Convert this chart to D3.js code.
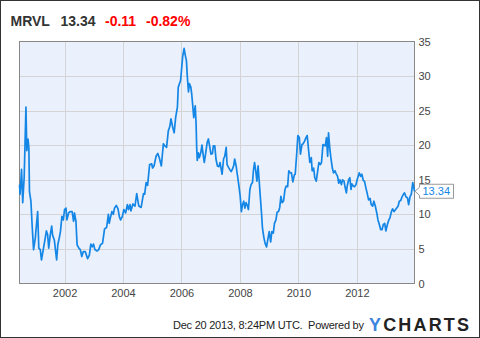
<!DOCTYPE html>
<html><head><meta charset="utf-8">
<script src="https://cdn.jsdelivr.net/npm/d3@7/dist/d3.min.js"></script>
<style>
html,body{margin:0;padding:0;background:#fff;}
svg{display:block;font-family:Arial,"Liberation Sans",sans-serif;}
</style></head>
<body>
<svg id="c" width="480" height="338"></svg>
<script>
// decimal years of observations
const years = [
2000.46,2000.48,2000.53,2000.57,2000.62,2000.68,2000.71,2000.75,2000.78,2000.80,2000.85,2000.89,2000.94,2001.00,2001.08,2001.12,2001.17,2001.21,2001.26,2001.32,2001.38,2001.42,2001.46,2001.51,2001.56,2001.59,2001.65,2001.73,2001.77,2001.82,2001.86,2001.91,2001.96,2002.00,2002.05,2002.08,2002.14,2002.19,2002.26,2002.31,2002.34,2002.39,2002.43,2002.49,2002.54,2002.59,2002.64,2002.71,2002.79,2002.85,2002.90,2002.95,2002.99,2003.04,2003.11,2003.17,
2003.23,2003.30,2003.37,2003.44,2003.50,2003.53,2003.58,2003.62,2003.67,2003.71,2003.77,2003.83,2003.88,2003.92,2003.98,2004.03,2004.09,2004.15,2004.19,2004.24,2004.27,2004.34,2004.41,2004.47,2004.54,2004.62,2004.70,2004.74,2004.79,2004.84,2004.91,2004.98,2005.01,2005.06,2005.13,2005.19,2005.24,2005.31,2005.38,2005.43,2005.49,2005.55,2005.60,2005.64,2005.70,2005.75,2005.80,2005.86,2005.89,2005.93,
2005.97,2006.04,2006.09,2006.13,2006.17,2006.20,2006.24,2006.27,2006.32,2006.35,2006.39,2006.42,2006.47,2006.50,2006.52,2006.54,2006.58,2006.61,2006.66,2006.70,2006.75,2006.78,2006.83,2006.88,2006.92,2006.97,2007.01,2007.06,2007.09,2007.14,2007.18,2007.23,2007.28,2007.32,2007.36,2007.39,2007.44,2007.48,2007.53,2007.56,2007.61,2007.65,2007.70,2007.74,2007.79,2007.82,2007.87,2007.91,2007.96,2008.01,2008.05,2008.09,2008.13,2008.17,2008.21,2008.26,2008.29,2008.34,2008.38,2008.43,2008.46,2008.50,2008.54,2008.58,2008.62,2008.65,
2008.69,2008.74,2008.77,2008.82,2008.86,2008.91,2008.95,2009.00,2009.05,2009.09,2009.14,2009.18,2009.23,2009.27,2009.32,2009.36,2009.40,2009.44,2009.49,2009.54,2009.58,2009.63,2009.67,2009.72,2009.76,2009.81,2009.86,2009.89,2009.94,2009.98,2010.03,2010.07,2010.12,2010.16,2010.21,2010.26,2010.30,2010.35,2010.39,2010.44,2010.47,2010.52,2010.56,2010.61,2010.65,2010.70,2010.75,2010.79,2010.84,2010.88,2010.92,2010.96,2011.00,2011.03,2011.07,2011.11,2011.16,2011.20,2011.25,2011.29,2011.34,2011.38,
2011.42,2011.47,2011.51,2011.56,2011.59,2011.64,2011.67,2011.72,2011.76,2011.80,2011.83,2011.88,2011.92,2011.97,2012.01,2012.08,2012.13,2012.17,2012.22,2012.26,2012.31,2012.36,2012.40,2012.45,2012.49,2012.54,2012.58,2012.63,2012.68,2012.72,2012.77,2012.81,2012.86,2012.90,2012.95,2012.99,2013.04,2013.09,2013.13,2013.18,2013.22,2013.27,2013.32,2013.36,2013.41,2013.45,2013.50,2013.54,2013.59,2013.63,2013.68,2013.73,2013.77,2013.82,2013.86,2013.91,2013.95,2013.97
];
// MRVL price (USD)
const prices = [
14.3,12.9,16.5,11.7,15.4,25.5,19.2,20.9,19.6,13.3,11.9,8.5,4.9,6.6,10.4,5.1,4.9,3.4,4.6,6.1,7.6,7.1,5.1,7.0,8.3,7.0,6.3,3.4,5.6,6.6,7.5,9.7,9.2,10.7,10.9,9.2,10.2,10.4,10.4,9.0,10.2,9.0,5.6,5.1,4.9,3.9,4.6,4.6,3.6,4.1,5.7,5.3,5.7,4.9,4.7,4.9,
5.6,5.8,7.9,8.1,10.0,8.7,9.7,10.4,10.0,10.9,11.3,10.8,9.6,9.2,9.7,10.7,10.2,11.4,10.7,11.4,10.5,11.5,11.2,13.0,11.2,11.0,13.0,12.9,14.6,14.2,17.2,17.3,16.7,17.0,18.4,18.8,18.2,17.0,20.2,19.9,19.7,22.1,22.7,23.8,22.6,21.8,24.0,25.5,28.4,28.9,
29.4,32.8,34.0,33.0,32.2,29.9,27.7,28.9,28.4,27.4,25.5,24.0,25.7,23.1,19.7,17.8,18.9,18.2,18.9,20.0,18.4,17.5,18.9,20.4,20.9,19.7,18.7,18.8,19.9,19.9,18.0,17.0,16.9,17.5,16.5,15.8,18.0,18.4,19.7,17.2,16.8,16.5,16.2,16.5,17.1,18.0,17.0,15.8,14.3,12.6,10.4,11.4,11.9,10.9,11.7,11.2,10.7,13.6,14.3,14.6,16.3,17.5,16.3,14.8,17.0,15.3,
12.9,10.0,8.0,6.6,5.8,5.3,6.3,7.5,6.0,7.5,7.3,8.7,9.2,10.3,10.4,11.0,12.6,11.7,11.9,13.6,14.1,14.0,16.3,16.0,16.0,14.7,15.7,15.8,18.7,21.4,21.1,18.7,20.1,20.2,20.6,21.1,21.4,19.2,17.5,18.2,16.3,16.7,15.3,14.8,16.0,17.5,17.2,17.5,20.1,20.0,19.9,21.1,18.4,21.8,19.7,18.2,16.7,16.0,16.3,15.9,15.5,14.5,
15.0,14.3,15.0,14.8,14.1,13.1,14.1,15.0,15.3,13.6,14.4,14.1,14.0,14.3,15.0,16.0,15.5,15.8,14.9,14.8,13.8,12.9,12.1,12.3,11.4,11.2,11.9,11.2,10.2,9.2,8.5,7.8,7.8,8.5,8.7,7.6,8.5,9.2,9.5,10.4,10.8,10.4,10.7,10.9,11.2,11.9,12.0,12.5,12.9,13.1,12.5,12.4,11.4,12.6,12.9,14.6,13.8,13.34
];
const yTicks = [0,5,10,15,20,25,30,35];
const xTickYears = [2002,2004,2006,2008,2010,2012];
const ticker = "MRVL", lastPrice = "13.34", change = "-0.11", changePct = "-0.82%";
const footerText = "Dec 20 2013, 8:24PM UTC.  Powered by";

function toDate(y){
  const yr = Math.floor(y);
  const s = new Date(yr,0,1).getTime(), e = new Date(yr+1,0,1).getTime();
  return new Date(s + (y-yr)*(e-s));
}
const data = years.map((y,i)=>({d:toDate(y), v:prices[i]}));

const svg = d3.select("#c");
const L=19.5, R=414.5, T=41.5, B=283.5;
const x = d3.scaleTime().domain(d3.extent(data,d=>d.d)).range([L,R]);
const y = d3.scaleLinear().domain([0,35]).range([B,T]);

// outer frame
svg.append("rect").attr("x",0.5).attr("y",0.5).attr("width",479).attr("height",337)
  .attr("fill","#fff").attr("stroke","#333");

// plot background
svg.append("rect").attr("x",L).attr("y",T).attr("width",R-L).attr("height",B-T)
  .attr("fill","#eaf0fc");

// grid
const grid = svg.append("g").attr("stroke","#d4d4d4").attr("stroke-width",1);
yTicks.filter(t=>t>0&&t<35).forEach(t=>{
  const yy = Math.round(y(t))+0.5;
  grid.append("line").attr("x1",L).attr("x2",R).attr("y1",yy).attr("y2",yy);
});
xTickYears.forEach(t=>{
  const xx = Math.round(x(new Date(t,0,1)))+0.5;
  grid.append("line").attr("x1",xx).attr("x2",xx).attr("y1",T).attr("y2",B);
});

// axes labels via d3 axes
const yAxis = d3.axisRight(y).tickValues(yTicks).tickSize(0).tickPadding(4);
const gy = svg.append("g").attr("transform",`translate(${R},0)`).call(yAxis);
gy.select(".domain").remove();
gy.selectAll("text").attr("fill","#444").style("font-size","11px").style("font-family","Arial,'Liberation Sans',sans-serif");

const xAxis = d3.axisBottom(x).tickValues(xTickYears.map(t=>new Date(t,0,1)))
  .tickFormat(d3.timeFormat("%Y")).tickSize(0).tickPadding(6);
const gx = svg.append("g").attr("transform",`translate(0,${B})`).call(xAxis);
gx.select(".domain").remove();
gx.selectAll("text").attr("fill","#444").style("font-size","11px").style("font-family","Arial,'Liberation Sans',sans-serif");

// plot border
svg.append("rect").attr("x",L).attr("y",T).attr("width",R-L).attr("height",B-T)
  .attr("fill","none").attr("stroke","#888");

// line
const line = d3.line().x(d=>x(d.d)).y(d=>y(d.v));
svg.append("path").datum(data).attr("d",line).attr("fill","none")
  .attr("stroke","#1386e6").attr("stroke-width",1.7).attr("stroke-linejoin","round");

// end label
const last = data[data.length-1];
const ex = x(last.d), ey = y(last.v);
const bx = ex+5, bw = 34, bh = 14;
svg.append("path")
  .attr("d",`M${ex+0.5},${ey} L${bx},${ey-4} L${bx},${ey-bh/2} L${bx+bw},${ey-bh/2} L${bx+bw},${ey+bh/2} L${bx},${ey+bh/2} L${bx},${ey+4} Z`)
  .attr("fill","#fff").attr("stroke","#999");
svg.append("text").attr("x",bx+3).attr("y",ey).attr("dy","0.35em")
  .attr("fill","#1386e6").style("font-size","11px").text(lastPrice);

// header
const hdr = svg.append("g").style("font-size","14px").style("font-weight","bold");
hdr.append("text").attr("x",10.5).attr("y",26).attr("fill","#333").text(ticker);
hdr.append("text").attr("x",60.5).attr("y",26).attr("fill","#333").text(lastPrice);
hdr.append("text").attr("x",105).attr("y",26).attr("fill","#f00").text(change);
hdr.append("text").attr("x",146).attr("y",26).attr("fill","#f00").text(changePct);

// footer
svg.append("text").attr("x",173).attr("y",329).attr("fill","#222")
  .style("font-size","11px").attr("xml:space","preserve")
  .attr("textLength",191).attr("lengthAdjust","spacing").text(footerText);
const logo = svg.append("text").attr("x",369).attr("y",330.5)
  .style("font-size","18px").style("font-weight","bold").attr("textLength",100).attr("lengthAdjust","spacing");
logo.append("tspan").attr("fill","#3d85e0").text("Y");
logo.append("tspan").attr("fill","#222").text("CHARTS");
</script>
</body></html>
